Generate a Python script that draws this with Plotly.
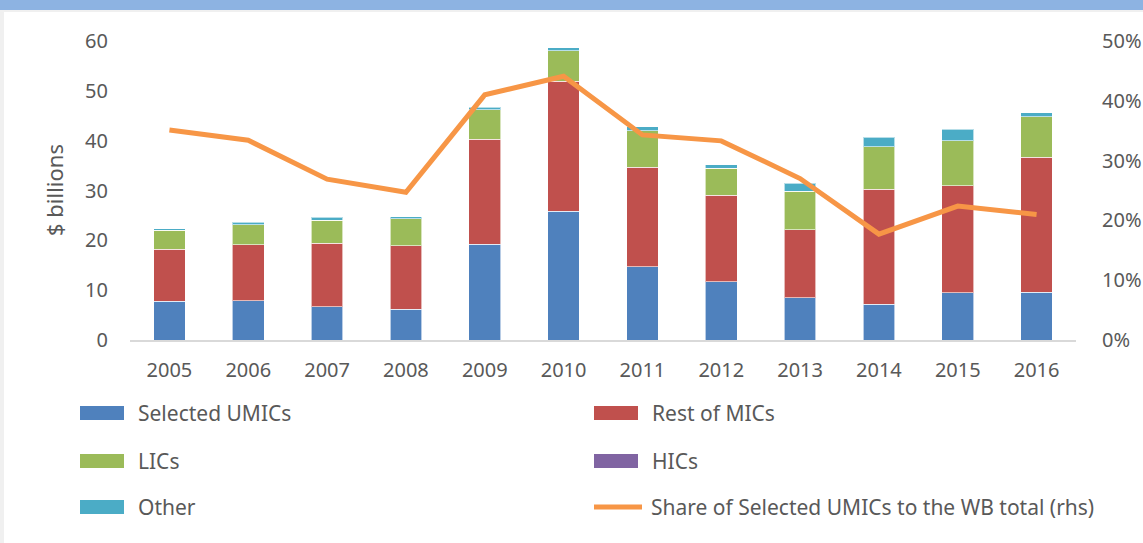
import plotly.graph_objects as go

years = ["2005", "2006", "2007", "2008", "2009", "2010", "2011", "2012", "2013", "2014", "2015", "2016"]
selected_umics = [7.8, 7.9, 6.7, 6.2, 19.2, 25.8, 14.7, 11.7, 8.5, 7.2, 9.5, 9.6]
rest_of_mics = [10.4, 11.2, 12.7, 12.7, 21.1, 26.1, 20.0, 17.3, 13.6, 23.1, 21.5, 27.1]
lics = [3.8, 4.0, 4.6, 5.4, 5.9, 6.1, 7.3, 5.5, 7.8, 8.5, 9.0, 8.1]
hics = [0, 0, 0, 0, 0, 0, 0, 0, 0, 0, 0, 0]
other = [0.3, 0.5, 0.6, 0.4, 0.5, 0.6, 0.8, 0.7, 1.6, 1.9, 2.3, 0.8]
share_pct = [35.1, 33.4, 26.9, 24.7, 41.0, 44.1, 34.3, 33.3, 27.0, 17.7, 22.4, 21.0]

W, H = 1143, 543
L, R, T, B = 130, 1076, 41, 340  # plot area in pixels


def px(x):
    return (x - L) / (R - L)


def py(y):
    return (B - y) / (B - T)


colors = {
    "Selected UMICs": "#4F81BD",
    "Rest of MICs": "#C0504D",
    "LICs": "#9BBB59",
    "HICs": "#8064A2",
    "Other": "#4BACC6",
}
series = [
    ("Selected UMICs", selected_umics),
    ("Rest of MICs", rest_of_mics),
    ("LICs", lics),
    ("HICs", hics),
    ("Other", other),
]
line_color = "#F79646"
font_family = "Noto Sans, Open Sans, sans-serif"
text_color = "#595959"

fig = go.Figure()
for name, vals in series:
    fig.add_trace(go.Bar(
        x=years, y=vals, name=name, marker_color=colors[name],
        marker_line=dict(color="rgba(255,255,255,0.6)", width=1),
        showlegend=False,
    ))
fig.add_trace(go.Scatter(
    x=years, y=share_pct, name="Share of Selected UMICs to the WB total (rhs)",
    mode="lines", line=dict(color=line_color, width=5), yaxis="y2", showlegend=False,
))

shapes = [
    # top band
    dict(type="rect", xref="paper", yref="paper", x0=px(-5), x1=px(W + 5), y0=py(10), y1=py(-5),
         fillcolor="#8DB3E2", line_width=0, layer="below"),
    dict(type="rect", xref="paper", yref="paper", x0=px(-5), x1=px(W + 5), y0=py(12), y1=py(10),
         fillcolor="#F0F0F0", line_width=0, layer="below"),
    dict(type="rect", xref="paper", yref="paper", x0=px(-5), x1=px(4), y0=py(H + 5), y1=py(10),
         fillcolor="#F0F0F0", line_width=0, layer="below"),
]

# manual legend
legend_items = [
    ("Selected UMICs", 80, 413, "bar"),
    ("Rest of MICs", 594, 413, "bar"),
    ("LICs", 80, 461, "bar"),
    ("HICs", 594, 461, "bar"),
    ("Other", 80, 507, "bar"),
    ("Share of Selected UMICs to the WB total (rhs)", 592, 507, "line"),
]
annotations = []
for name, x0, yc, kind in legend_items:
    if kind == "bar":
        shapes.append(dict(type="rect", xref="paper", yref="paper",
                           x0=px(x0), x1=px(x0 + 44), y0=py(yc + 7), y1=py(yc - 7),
                           fillcolor=colors[name], line_width=0))
        tx = x0 + 56
    else:
        shapes.append(dict(type="line", xref="paper", yref="paper",
                           x0=px(x0 + 2), x1=px(x0 + 50), y0=py(yc), y1=py(yc),
                           line=dict(color=line_color, width=5)))
        tx = x0 + 57
    annotations.append(dict(x=px(tx), y=py(yc), xref="paper", yref="paper", text=name,
                            showarrow=False, xanchor="left", yanchor="middle",
                            font=dict(size=21, color=text_color, family=font_family)))

annotations.append(dict(x=px(71), y=py(190), xref="paper", yref="paper", text="$ billions",
                        textangle=-90, showarrow=False, xanchor="right", yanchor="middle",
                        font=dict(size=22, color=text_color, family=font_family)))

fig.update_layout(
    width=W, height=H,
    margin=dict(l=L, r=W - R, t=T, b=H - B, autoexpand=False),
    barmode="stack", bargap=0.6,
    paper_bgcolor="white", plot_bgcolor="white",
    font=dict(family=font_family, size=20, color=text_color),
    xaxis=dict(showgrid=False, showline=True, linecolor="#D9D9D9", linewidth=2,
               ticks="outside", ticklen=11, tickcolor="rgba(0,0,0,0)",
               tickfont=dict(size=20, color=text_color)),
    yaxis=dict(range=[0, 60], dtick=10, showgrid=False, showline=False, zeroline=False,
               ticks="outside", ticklen=17, tickcolor="rgba(0,0,0,0)",
               tickfont=dict(size=20, color=text_color)),
    yaxis2=dict(range=[0, 50], dtick=10, overlaying="y", side="right", showgrid=False,
                showline=False, zeroline=False, ticksuffix="%",
                ticks="outside", ticklen=21, tickcolor="rgba(0,0,0,0)",
                tickfont=dict(size=20, color=text_color)),
    shapes=shapes,
    annotations=annotations,
)

fig.write_html("out.html", config={"displayModeBar": False},
               post_script="document.body.style.margin='0';")
